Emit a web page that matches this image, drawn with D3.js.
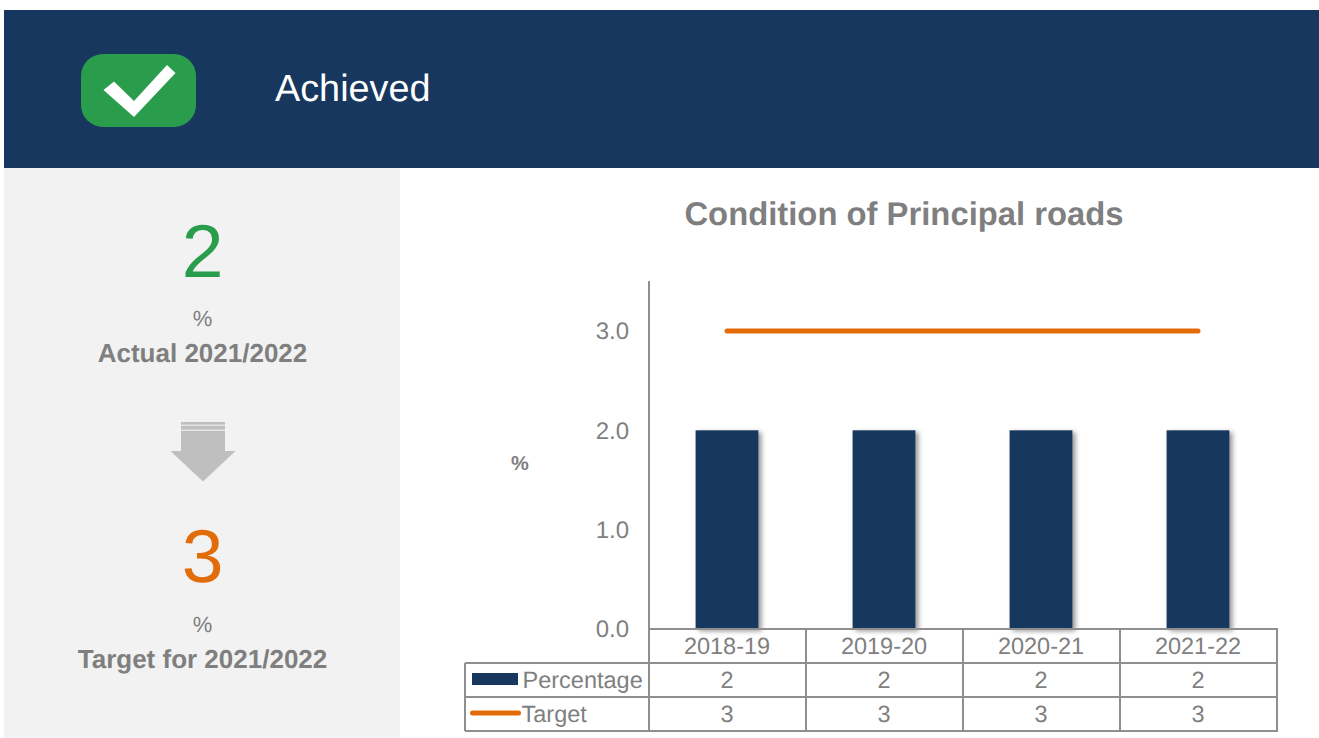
<!DOCTYPE html>
<html>
<head>
<meta charset="utf-8">
<script src="https://cdn.jsdelivr.net/npm/d3@7/dist/d3.min.js"></script>
<style>
html,body{margin:0;padding:0;background:#fff;overflow:hidden}
svg{display:block;font-family:"Liberation Sans",Arial,sans-serif;text-rendering:geometricPrecision}
</style>
</head>
<body>
<svg id="c" width="1319" height="738"></svg>
<script>
const categories = ["2018-19","2019-20","2020-21","2021-22"];
const percentage = [2,2,2,2];
const target = [3,3,3,3];
const yTicks = [0,1,2,3];
const statusLabel = "Achieved";
const chartTitle = "Condition of Principal roads";
const unitLabel = "%";
const actualValue = "2", actualCaption = "Actual 2021/2022";
const targetValue = "3", targetCaption = "Target for 2021/2022";
const seriesNames = ["Percentage","Target"];

const navy="#17375e", orange="#e36c0a", green="#2a9d4c", grey="#7f7f7f", line="#8f8f8f";
const svg=d3.select("#c");
const defs=svg.append("defs");
const f=defs.append("filter").attr("id","sh").attr("x","-20%").attr("y","-10%").attr("width","150%").attr("height","120%");
f.append("feDropShadow").attr("dx",3).attr("dy",2).attr("stdDeviation",2.4).attr("flood-color","#000").attr("flood-opacity",0.42);

// header and sidebar
svg.append("rect").attr("x",4).attr("y",10).attr("width",1315).attr("height",158).attr("fill",navy);
svg.append("rect").attr("x",4).attr("y",168).attr("width",396).attr("height",570).attr("fill","#f2f2f2");
svg.append("rect").attr("x",81).attr("y",54).attr("width",115).attr("height",73).attr("rx",22).attr("fill",green);
svg.append("path").attr("d","M103.500 90L114 81.500L134 101L167 65L175.500 73L134 117Z").attr("fill","#fff");
svg.append("text").attr("x",275).attr("y",101).attr("font-size",37.8).attr("fill","#fff").text(statusLabel);

// sidebar text
function centre(x,y,size,fill,weight,t){
  svg.append("text").attr("x",x).attr("y",y).attr("text-anchor","middle").attr("font-size",size)
    .attr("fill",fill).attr("font-weight",weight).text(t);
}
centre(202.500,277,75,green,"normal",actualValue);
centre(202.500,326,22,grey,"normal",unitLabel);
centre(202.500,362,26,grey,"bold",actualCaption);
centre(202.500,582,75,orange,"normal",targetValue);
centre(202.500,632,22,grey,"normal",unitLabel);
centre(202.500,668,26,grey,"bold",targetCaption);

// arrow
svg.append("path").attr("d","M181 422H225V451H235.500L203 481.500L170.500 451H181Z").attr("fill","#bfbfbf");
svg.append("rect").attr("x",181).attr("y",424.500).attr("width",44).attr("height",1.500).attr("fill","#e4e4e4");
svg.append("rect").attr("x",181).attr("y",429.500).attr("width",44).attr("height",1.500).attr("fill","#e4e4e4");

// chart
const x=d3.scaleBand().domain(categories).range([648.500,1276.500]).paddingInner(0.6).paddingOuter(0.3);
const col=d3.scaleBand().domain(categories).range([649,1277]);
const y=d3.scaleLinear().domain([0,3]).range([629,331]);
centre(904,225,32.8,grey,"bold",chartTitle);
svg.append("text").attr("x",520).attr("y",470).attr("text-anchor","middle").attr("font-size",20).attr("font-weight","bold").attr("fill",grey).text(unitLabel);

svg.selectAll("rect.bar").data(percentage).join("rect").attr("class","bar")
  .attr("x",(d,i)=>x(categories[i])).attr("width",x.bandwidth())
  .attr("y",d=>y(d)).attr("height",d=>y(0)-y(d)).attr("fill",navy).attr("filter","url(#sh)");
svg.append("path").datum(target)
  .attr("d",d3.line().x((d,i)=>x(categories[i])+x.bandwidth()/2).y(d=>y(d)))
  .attr("fill","none").attr("stroke",orange).attr("stroke-width",5).attr("stroke-linecap","round");

// y axis
const axis=d3.axisLeft(y).tickValues(yTicks).tickSize(0).tickPadding(20).tickFormat(d3.format(".1f"));
const ga=svg.append("g").attr("transform","translate(649,0)").call(axis);
ga.select(".domain").remove();
ga.selectAll("text").attr("font-size",24).attr("fill",grey).attr("font-family","inherit");
svg.append("line").attr("x1",649).attr("x2",649).attr("y1",281).attr("y2",629).attr("stroke",line).attr("stroke-width",2);

// data table
const rows=[629,663,697,731];
const gl=svg.append("g").attr("stroke",line).attr("stroke-width",2).attr("fill","none");
rows.forEach((r,i)=>gl.append("line").attr("x1",i==0?649:465).attr("x2",1278).attr("y1",r).attr("y2",r));
col.domain().forEach(c=>gl.append("line").attr("x1",col(c)).attr("x2",col(c)).attr("y1",629).attr("y2",731));
gl.append("line").attr("x1",1277).attr("x2",1277).attr("y1",629).attr("y2",731);
gl.append("line").attr("x1",465).attr("x2",465).attr("y1",663).attr("y2",731);

const cx=c=>col(c)+col.bandwidth()/2;
const cell=(xx,yy,t)=>svg.append("text").attr("x",xx).attr("y",yy).attr("text-anchor","middle").attr("font-size",23.5).attr("fill",grey).text(t);
categories.forEach((c,i)=>{
  cell(cx(c)-0.5,653.500,c);
  cell(cx(c)-0.5,687.500,percentage[i]);
  cell(cx(c)-0.5,721.500,target[i]);
});
svg.append("rect").attr("x",472).attr("y",673).attr("width",46).attr("height",12).attr("fill",navy);
svg.append("line").attr("x1",472.500).attr("x2",518.500).attr("y1",713).attr("y2",713).attr("stroke",orange).attr("stroke-width",5).attr("stroke-linecap","round");
svg.append("text").attr("x",522.500).attr("y",687.500).attr("font-size",23.5).attr("fill",grey).text(seriesNames[0]);
svg.append("text").attr("x",521.500).attr("y",721.500).attr("font-size",23.5).attr("fill",grey).text(seriesNames[1]);
</script>
</body>
</html>
